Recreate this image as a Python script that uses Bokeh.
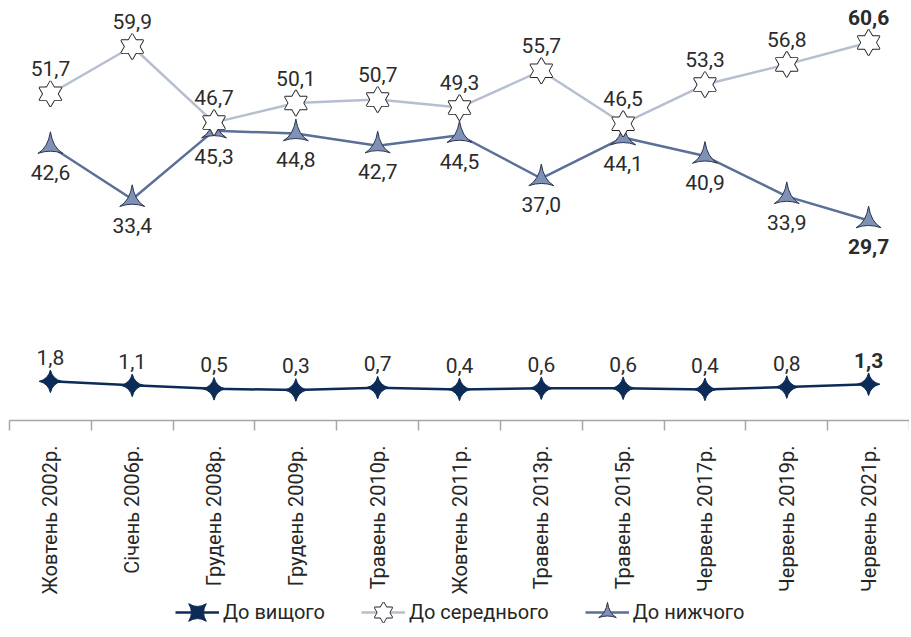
import numpy as np
from bokeh.plotting import figure
from bokeh.layouts import column
from bokeh.models import (ColumnDataSource, Range1d, FixedTicker, Legend, LegendItem,
                          CustomJSTickFormatter)
from bokeh.core.properties import value
from bokeh.embed import file_html
from bokeh.resources import INLINE

categories = ["Жовтень 2002р.", "Січень 2006р.", "Грудень 2008р.", "Грудень 2009р.",
              "Травень 2010р.", "Жовтень 2011р.", "Травень 2013р.", "Травень 2015р.",
              "Червень 2017р.", "Червень 2019р.", "Червень 2021р."]
higher = [1.8, 1.1, 0.5, 0.3, 0.7, 0.4, 0.6, 0.6, 0.4, 0.8, 1.3]
middle = [51.7, 59.9, 46.7, 50.1, 50.7, 49.3, 55.7, 46.5, 53.3, 56.8, 60.6]
lower = [42.6, 33.4, 45.3, 44.8, 42.7, 44.5, 37.0, 44.1, 40.9, 33.9, 29.7]
series_names = ["До вищого", "До середнього", "До нижчого"]

n = len(categories)
xs = np.arange(n) + 0.5


def make_source(vals):
    return ColumnDataSource(dict(
        x=xs, y=vals,
        label=[f"{v:.1f}".replace(".", ",") for v in vals],
        style=["bold" if i == n - 1 else "normal" for i in range(n)],
    ))


src_h = make_source(higher)
src_m = make_source(middle)
src_l = make_source(lower)

p = figure(width=909, height=599, x_range=Range1d(0, n), y_range=Range1d(-5, 66.5),
           output_backend="svg", toolbar_location=None, y_axis_location=None,
           min_border_left=9, min_border_right=0, min_border_top=8, min_border_bottom=179)
p.xgrid.visible = False
p.ygrid.visible = False
p.outline_line_color = None

ax = p.xaxis[0]
ax.ticker = FixedTicker(ticks=list(xs), minor_ticks=list(range(n + 1)))
ax.formatter = CustomJSTickFormatter(args=dict(cats=categories),
                                     code="return cats[Math.round(tick - 0.5)];")
ax.major_tick_out = 0
ax.major_tick_in = 0
ax.minor_tick_out = 10
ax.minor_tick_in = 0
ax.minor_tick_line_color = "#a6a6a6"
ax.minor_tick_line_width = 1.5
ax.axis_line_color = "#a6a6a6"
ax.axis_line_width = 1.5
ax.major_label_orientation = np.pi / 2
ax.major_label_standoff = 15
ax.major_label_text_font = "Roboto"
ax.major_label_text_font_size = "20px"
ax.major_label_text_color = "#262626"

c_h = "#0c2b57"
c_m = "#b6bed1"
c_l = "#5b6f98"

line_h = dict(line_color=c_h, line_width=2.5)
line_m = dict(line_color=c_m, line_width=2.5)
line_l = dict(line_color=c_l, line_width=2.5)
mk_l = dict(marker="triangle_pin", size=25, fill_color="#8091b6", line_color="#2b3550", line_width=1)
mk_m1 = dict(marker="triangle", size=22, fill_alpha=0, line_color="#222222", line_width=1.8)
mk_m2 = dict(marker="inverted_triangle", size=22, fill_alpha=0, line_color="#222222", line_width=1.8)
mk_m3 = dict(marker="triangle", size=22, fill_color="white", line_color=None)
mk_m4 = dict(marker="inverted_triangle", size=22, fill_color="white", line_color=None)
mk_h = dict(marker="square_pin", size=16, angle=np.pi / 4, fill_color=c_h, line_color=c_h, line_width=1)
mk_ms = (mk_m1, mk_m2, mk_m3, mk_m4)

p.line("x", "y", source=src_h, **line_h)
p.line("x", "y", source=src_m, **line_m)
p.line("x", "y", source=src_l, **line_l)
p.scatter("x", "y", source=src_l, **mk_l)
for mk in mk_ms:
    p.scatter("x", "y", source=src_m, **mk)
p.scatter("x", "y", source=src_h, **mk_h)

common = dict(text_align="center", text_baseline="middle", text_font=value("Roboto"),
              text_font_size="21px", text_color="#2b2b2b", text_font_style="style")
p.text("x", "y", text="label", source=src_m, y_offset=-25, **common)
p.text("x", "y", text="label", source=src_l, y_offset=26, **common)
p.text("x", "y", text="label", source=src_h, y_offset=-24, **common)

# legend strip: same series, ranges chosen so no data is in view
q = figure(width=909, height=38, x_range=Range1d(-100, -99), y_range=Range1d(-100, -99),
           output_backend="svg", toolbar_location=None, x_axis_location=None,
           y_axis_location=None, min_border_left=9, min_border_right=0,
           min_border_top=0, min_border_bottom=0)
q.xgrid.visible = False
q.ygrid.visible = False
q.outline_line_color = None
r_h = [q.line("x", "y", source=src_h, **line_h), q.scatter("x", "y", source=src_h, **mk_h)]
r_m = [q.line("x", "y", source=src_m, **line_m)] + \
      [q.scatter("x", "y", source=src_m, **mk) for mk in mk_ms]
r_l = [q.line("x", "y", source=src_l, **line_l), q.scatter("x", "y", source=src_l, **mk_l)]

legend = Legend(items=[
    LegendItem(label=series_names[0], renderers=r_h),
    LegendItem(label=series_names[1], renderers=r_m),
    LegendItem(label=series_names[2], renderers=r_l),
], location=(166, 3), orientation="horizontal",
    glyph_width=44, glyph_height=44, label_standoff=4, spacing=36,
    padding=0, margin=0, border_line_alpha=0, background_fill_alpha=0,
    label_text_font="Roboto", label_text_font_size="20px", label_text_color="#262626")
q.add_layout(legend, "center")

layout = column(p, q, spacing=0)
open("out.html", "w").write(file_html(layout, INLINE))
